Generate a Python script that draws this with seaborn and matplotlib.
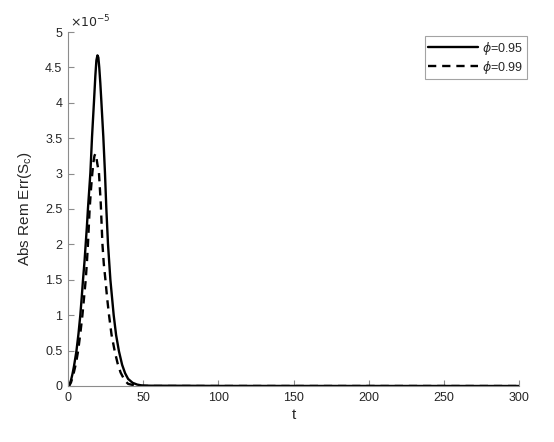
import numpy as np
import pandas as pd
import matplotlib
matplotlib.use("Agg")
import matplotlib.pyplot as plt
import seaborn as sns
from matplotlib.ticker import FuncFormatter

# values, in units of 1e-5
t_095 = [0, 1, 2, 3, 4, 5.6, 7, 8.2, 9.1, 10, 11, 11.8, 12.6, 13.3, 14.1, 14.9,
         16, 17.3, 18.2, 18.9, 19.6, 20.2, 20.8, 21.5, 22.2, 23.5, 24.6, 25.5,
         26.6, 28.2, 30.4, 32, 33.9, 36, 38, 40, 43, 46, 49, 55, 80, 100, 300]
err_095 = [0, 0.02, 0.08, 0.17, 0.28, 0.49, 0.74, 1.0, 1.24, 1.5, 1.76, 2.01,
           2.26, 2.51, 2.76, 3.01, 3.52, 4.02, 4.38, 4.6, 4.67, 4.64, 4.5, 4.28,
           4.02, 3.52, 3.01, 2.51, 2.01, 1.5, 1.0, 0.72, 0.49, 0.3, 0.18, 0.1,
           0.045, 0.02, 0.008, 0.004, 0.003, 0.001, 0]

t_099 = [0, 1, 2, 3, 4, 5.4, 6.7, 8.2, 9.6, 10.7, 11.8, 12.6, 13.3, 14.4, 15.3,
         16.2, 17.0, 17.6, 18.2, 18.8, 19.5, 20.6, 21.8, 22.9, 23.8, 24.9, 26,
         27.3, 29, 31.1, 33, 35, 37.7, 40, 45, 50, 300]
err_099 = [0, 0.01, 0.05, 0.12, 0.2, 0.33, 0.49, 0.74, 1.0, 1.25, 1.5, 1.75,
           2.01, 2.5, 2.78, 3.01, 3.17, 3.25, 3.28, 3.24, 3.14, 3.01, 2.58,
           2.01, 1.73, 1.5, 1.25, 1.0, 0.72, 0.49, 0.32, 0.19, 0.08, 0.03,
           0.005, 0, 0]

labels = [r"$\phi$=0.95", r"$\phi$=0.99"]
y_ticks = [0, 0.5, 1, 1.5, 2, 2.5, 3, 3.5, 4, 4.5, 5]
x_ticks = [0, 50, 100, 150, 200, 250, 300]

df1 = pd.DataFrame({"t": t_095, "err": np.array(err_095) * 1e-5})
df2 = pd.DataFrame({"t": t_099, "err": np.array(err_099) * 1e-5})

sns.set_style("ticks")
plt.rcParams["font.family"] = ["Liberation Sans", "DejaVu Sans"]
plt.rcParams["mathtext.fontset"] = "dejavusans"

fig = plt.figure(figsize=(5.54, 4.42), dpi=100)
ax = fig.add_axes([0.1227, 0.1267, 0.8143, 0.8009])

sns.lineplot(data=df1, x="t", y="err", ax=ax, color="black", linewidth=1.7,
             label=labels[0])
sns.lineplot(data=df2, x="t", y="err", ax=ax, color="black", linewidth=1.7,
             linestyle=(0, (3.5, 2.5)), label=labels[1])

ax.set_xlim(0, 300)
ax.set_ylim(0, 5e-5)
ax.set_xticks(x_ticks)
ax.set_yticks(np.array(y_ticks) * 1e-5)
ax.yaxis.set_major_formatter(FuncFormatter(lambda v, p: f"{v * 1e5:g}"))
ax.text(0.005, 1.005, r"$\times10^{-5}$", transform=ax.transAxes,
        fontsize=9, color="#262626", ha="left", va="bottom")

sns.despine(ax=ax)
for s in ["left", "bottom"]:
    ax.spines[s].set_color("#8c8c8c")
    ax.spines[s].set_linewidth(0.8)
ax.tick_params(direction="in", length=4, width=0.8, color="#8c8c8c",
               labelsize=9, labelcolor="#262626", pad=4)

ax.set_xlabel("t", fontsize=11, color="#262626", labelpad=3)
ax.set_ylabel(r"Abs Rem Err(S$_\mathregular{c}$)", fontsize=11,
              color="#262626", labelpad=8)

leg = ax.legend(loc="upper right", bbox_to_anchor=(1.018, 0.989), fontsize=9,
                frameon=True, fancybox=False, handlelength=4.0,
                borderpad=0.3, labelspacing=0.15, handletextpad=0.3,
                borderaxespad=0)
leg.get_frame().set_edgecolor("#8c8c8c")
leg.get_frame().set_linewidth(0.8)

fig.savefig("out.png", dpi=100)
